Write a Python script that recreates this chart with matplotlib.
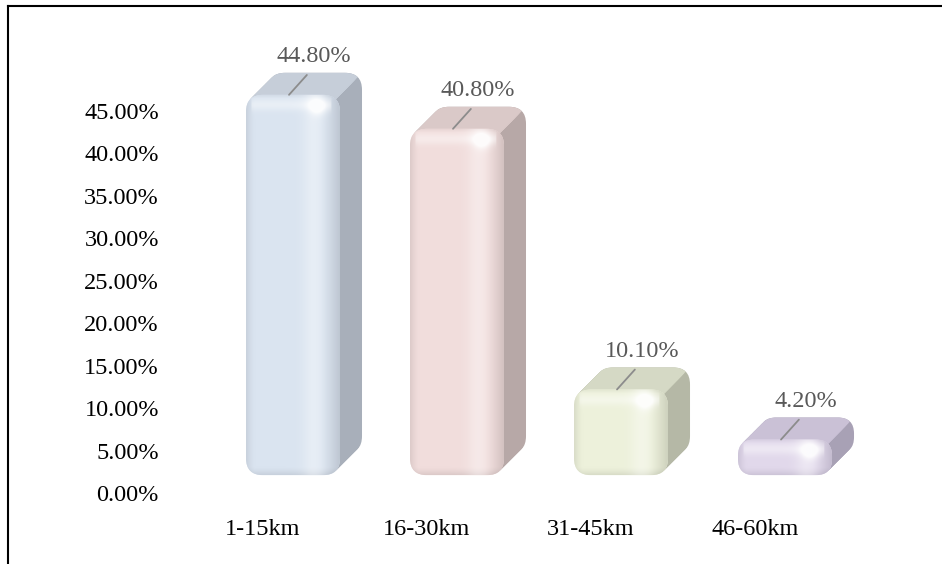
import numpy as np
import matplotlib.pyplot as plt
from matplotlib.patches import FancyBboxPatch, Polygon
from matplotlib.lines import Line2D
from matplotlib.colors import to_rgb

categories = ["1-15km", "16-30km", "31-45km", "46-60km"]
values = [44.8, 40.8, 10.1, 4.2]
value_labels = ["44.80%", "40.80%", "10.10%", "4.20%"]
yticks = [0, 5, 10, 15, 20, 25, 30, 35, 40, 45]

front_colors = ["#dae4f0", "#f1dddc", "#edf1db", "#e1d8eb"]
top_colors = ["#c6ced9", "#dac9c8", "#d5d9c5", "#cac1d6"]
side_colors = ["#a8afba", "#b7a8a7", "#b5b8a6", "#a8a1b5"]

plt.rcParams["font.family"] = ["Liberation Serif", "DejaVu Serif"]

W, H = 942, 564
fig = plt.figure(figsize=(9.42, 5.64), dpi=100)
left_px, right_px, zero_px, top_px = 170, 930, 493, 68.5
ax = fig.add_axes([left_px / W, 1 - zero_px / H,
                   (right_px - left_px) / W, (zero_px - top_px) / H])
xlim = (-0.75, 3.884)
ylim = (0, 50)

# pixel scale of the data axes
px_x = (right_px - left_px) / (xlim[1] - xlim[0])
px_y = (zero_px - top_px) / (ylim[1] - ylim[0])

floor = 2.1          # front face sits a bit above the floor (perspective)
bw_px = 94
bw = bw_px / px_x    # front face width
aspect = px_x / px_y
ddx, ddy = 22 / px_x, 22 / px_y   # depth offset
steps = 16


def rgb(c):
    return np.array(to_rgb(c))


def front_image(base, side, w_px, h_px, r_px):
    """soft shading of the front face, in pixel units"""
    u = np.linspace(0, w_px, 120)[None, :]
    y = np.linspace(0, h_px, max(int(h_px), 40))[:, None]
    top_d = h_px - y
    img = np.ones((y.shape[0], u.shape[1], 3)) * rgb(base)
    dark = np.zeros((y.shape[0], u.shape[1]))
    light = np.zeros_like(dark)
    dark += 0.35 * np.clip((9 - u) / 9, 0, 1) ** 1.5
    dark += 0.55 * np.clip((u - (w_px - 20)) / 20, 0, 1) ** 1.3
    dark += 0.35 * np.clip((8 - y) / 8, 0, 1) ** 1.5
    dark += 0.2 * np.clip((4 - top_d) / 4, 0, 1)
    light += 0.35 * np.exp(-((u - 0.72 * w_px) / 11) ** 2)
    light += 0.4 * np.exp(-((top_d - r_px * 0.6) / 6) ** 2) * (u > 5) * (u < w_px - 8)
    light += 0.85 * np.exp(-(((u - (w_px - 22)) / 8) ** 2 + ((top_d - 12) / 8) ** 2))
    dark = np.clip(dark, 0, 0.7)[..., None]
    light = np.clip(light, 0, 0.9)[..., None]
    img = img * (1 - dark) + rgb(side) * dark
    img = img * (1 - light) + np.ones(3) * light
    return img


for i, v in enumerate(values):
    x0 = i - bw / 2
    h_px = v * px_y
    r_px = min(17, 0.45 * h_px)
    rad = r_px / px_x
    box = f"round,pad=0,rounding_size={rad}"

    # region of the top face (above the diagonal from the front top-right edge)
    cx, cy = x0 + bw - rad * 0.6, floor + v - r_px / px_y * 0.6
    top_region = Polygon(
        [(x0 - ddx, cy), (cx, cy), (cx + 2 * ddx, cy + 2 * ddy), (x0 - ddx, cy + 2 * ddy)],
        closed=True, transform=ax.transData,
    )
    # extruded body: stack of rounded boxes from back to front
    for k in range(steps, 0, -1):
        f = k / steps
        pos = (x0 + ddx * f, floor + ddy * f)
        ax.add_patch(FancyBboxPatch(
            pos, bw, v, boxstyle=box, mutation_aspect=aspect,
            fc=side_colors[i], ec="none", zorder=2, clip_on=False,
        ))
        top = FancyBboxPatch(
            pos, bw, v, boxstyle=box, mutation_aspect=aspect,
            fc=top_colors[i], ec="none", zorder=2.1,
        )
        ax.add_patch(top)
        top.set_clip_path(top_region)

    # front face with shading
    front = FancyBboxPatch(
        (x0, floor), bw, v, boxstyle=box, mutation_aspect=aspect,
        fc=front_colors[i], ec="none", zorder=3, clip_on=False,
    )
    ax.add_patch(front)
    im = ax.imshow(
        front_image(front_colors[i], side_colors[i], bw_px, h_px, r_px),
        extent=[x0, x0 + bw, floor, floor + v], origin="lower",
        aspect="auto", interpolation="bilinear", zorder=4,
    )
    im.set_clip_path(front)

    ax.annotate(
        value_labels[i],
        xy=(i - 4 / px_x, floor + v),
        xytext=(18, 20),
        textcoords="offset points",
        ha="center",
        va="bottom",
        fontsize=17.5,
        color="#595959",
        zorder=6,
        arrowprops=dict(arrowstyle="-", color="#8c8c8c", lw=1.3,
                        shrinkA=5, shrinkB=0, relpos=(0.5, 0)),
    )

ax.set_xlim(xlim)
ax.set_ylim(ylim)
ax.set_yticks(yticks)
ax.set_yticklabels([f"{t:.2f}%" for t in yticks])
ax.set_xticks([i - 30 / px_x for i in range(len(categories))])
ax.set_xticklabels(categories)
ax.tick_params(axis="y", length=0, pad=8, labelsize=17.5, labelcolor="black")
ax.tick_params(axis="x", length=0, pad=18.5, labelsize=17.5, labelcolor="black")
for s in ax.spines.values():
    s.set_visible(False)

# frame of the original picture (left and top edges)
fig.add_artist(Line2D([7.5 / W, 7.5 / W], [0, 1 - 5.5 / H],
                      transform=fig.transFigure, color="black", lw=1.5))
fig.add_artist(Line2D([7.5 / W, 1], [1 - 5.5 / H, 1 - 5.5 / H],
                      transform=fig.transFigure, color="black", lw=1.5))

fig.savefig("out.png", dpi=100, facecolor="white")
